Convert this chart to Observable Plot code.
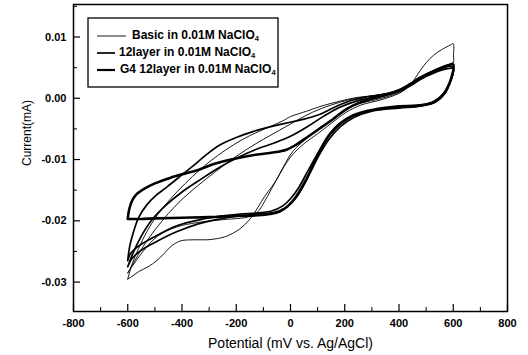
<!DOCTYPE html>
<html><head><meta charset="utf-8">
<script src="https://cdn.jsdelivr.net/npm/d3@7"></script>
<script src="https://cdn.jsdelivr.net/npm/@observablehq/plot@0.6"></script>
<style>body{margin:0;background:#fff} svg{display:block}</style>
</head><body><div id="chart"></div>
<script>
// Tick values
const xMajor = [-800, -600, -400, -200, 0, 200, 400, 600, 800];
const xMinor = [-700, -500, -300, -100, 100, 300, 500, 700];
const yMajor = [0.01, 0.00, -0.01, -0.02, -0.03];
const yMinor = [0.015, 0.005, -0.005, -0.015, -0.025];
const yDomain = [-0.0348, 0.0153];
const xDomain = [-800, 800];

const legendLabels = ["Basic in 0.01M NaClO", "12layer in 0.01M NaClO", "G4 12layer in 0.01M NaClO"];

// [potential mV, current mA] in sweep order
const basicCycle1 = [
  [-600,-0.0295],[-585,-0.0291],[-560,-0.0283],[-525,-0.0275],[-493,-0.0265],[-465,-0.0253],[-444,-0.0243],
  [-407,-0.0233],[-360,-0.0231],[-308,-0.0231],[-270,-0.0229],[-235,-0.0225],[-186,-0.0213],[-149,-0.0197],
  [-120,-0.0178],[-95,-0.0160],[-70,-0.0145],[-53,-0.0134],[-25,-0.0111],[8,-0.0087],[50,-0.0069],[95,-0.0053],
  [150,-0.0035],[205,-0.0018],[260,-0.0008],[320,-0.0002],[380,0.0006],[420,0.0014],[441,0.0022],[460,0.0033],
  [478,0.0045],[500,0.0058],[527,0.0070],[560,0.0080],[590,0.0087],[600,0.0089],
  [601,0.0070],[600,0.0058],[580,0.0051],[540,0.0045],[500,0.0038],[460,0.0028],[420,0.0017],[370,0.0009],
  [300,0.0004],[240,0.0001],[180,-0.0005],[120,-0.0012],[60,-0.0021],[0,-0.0030],[-29,-0.0037],[-90,-0.0049],
  [-150,-0.0061],[-210,-0.0076],[-270,-0.0094],[-330,-0.0115],[-390,-0.0140],[-440,-0.0163],[-490,-0.0190],
  [-530,-0.0218],[-560,-0.0245],[-585,-0.0272],[-600,-0.0295]
];
const basicCycle2 = [
  [-600,-0.0285],[-580,-0.0272],[-540,-0.0248],[-490,-0.0225],[-419,-0.0210],[-345,-0.0203],[-247,-0.0198],
  [-190,-0.0196],[-150,-0.0193],[-120,-0.0185],[-95,-0.0168],[-70,-0.0148],[-40,-0.0124],[0,-0.0096],
  [50,-0.0074],[100,-0.0058],[150,-0.0041],[205,-0.0023],[260,-0.0011],[330,-0.0003],[400,0.0008],[441,0.0020],
  [480,0.0033],[530,0.0045],[600,0.0058],
  [560,0.0050],[500,0.0040],[441,0.0023],[380,0.0011],[300,0.0004],[220,-0.0002],[150,-0.0011],[80,-0.0023],
  [20,-0.0037],[-40,-0.0052],[-100,-0.0067],[-160,-0.0083],[-220,-0.0101],[-280,-0.0121],[-340,-0.0142],
  [-400,-0.0165],[-450,-0.0188],[-500,-0.0215],[-545,-0.0243],[-580,-0.0270],[-600,-0.0285]
];
const layerCycle1 = [
  [-600,-0.0265],[-592,-0.0255],[-565,-0.0243],[-505,-0.0227],[-419,-0.0208],[-321,-0.0197],[-250,-0.0192],
  [-186,-0.0189],[-120,-0.0187],[-70,-0.0184],[-30,-0.0176],[0,-0.0164],[30,-0.0146],[60,-0.0122],[90,-0.0098],
  [125,-0.0072],[165,-0.0050],[210,-0.0034],[260,-0.0024],[320,-0.0018],[400,-0.0014],[480,-0.0011],[530,-0.0005],
  [565,0.0008],[588,0.0025],[600,0.0050],
  [580,0.0052],[530,0.0045],[480,0.0035],[441,0.0024],[400,0.0014],[340,0.0006],[280,0.0002],[220,-0.0004],
  [160,-0.0015],[109,-0.0026],[50,-0.0034],[-20,-0.0041],[-80,-0.0047],[-136,-0.0054],[-200,-0.0064],
  [-259,-0.0076],[-310,-0.0092],[-358,-0.0110],[-400,-0.0125],[-456,-0.0145],[-500,-0.0160],[-530,-0.0174],
  [-560,-0.0195],[-580,-0.0220],[-593,-0.0242],[-600,-0.0265]
];
const layerCycle2 = [
  [-600,-0.0275],[-585,-0.0262],[-550,-0.0248],[-490,-0.0233],[-420,-0.0218],[-340,-0.0205],[-260,-0.0197],
  [-190,-0.0192],[-120,-0.0189],[-60,-0.0186],[-20,-0.0179],[15,-0.0165],[45,-0.0145],[75,-0.0119],[105,-0.0093],
  [140,-0.0068],[185,-0.0046],[235,-0.0031],[300,-0.0021],[400,-0.0016],[480,-0.0013],[535,-0.0006],[570,0.0008],
  [590,0.0028],[600,0.0048],
  [575,0.0048],[527,0.0041],[480,0.0031],[441,0.0020],[380,0.0009],[300,0.0001],[240,-0.0005],[180,-0.0015],
  [120,-0.0030],[60,-0.0047],[0,-0.0062],[-60,-0.0073],[-130,-0.0084],[-200,-0.0098],[-270,-0.0115],
  [-340,-0.0135],[-400,-0.0153],[-460,-0.0175],[-510,-0.0198],[-550,-0.0225],[-580,-0.0252],[-600,-0.0275]
];
const g4Cycle1 = [
  [-600,-0.0197],[-550,-0.0197],[-500,-0.0196],[-400,-0.0195],[-300,-0.0194],[-200,-0.0192],[-120,-0.0191],
  [-75,-0.0189],[-40,-0.0185],[-10,-0.0176],[20,-0.0161],[45,-0.0143],[70,-0.0122],[95,-0.0098],[120,-0.0076],
  [146,-0.0058],[180,-0.0042],[230,-0.0028],[280,-0.0021],[343,-0.0016],[400,-0.0013],[466,-0.0012],[520,-0.0008],
  [555,0.0002],[576,0.0015],[592,0.0032],[600,0.0055],
  [575,0.0053],[527,0.0044],[480,0.0033],[441,0.0022],[400,0.0012],[343,0.0004],[290,-0.0002],[250,-0.0008],
  [205,-0.0018],[160,-0.0033],[109,-0.0049],[60,-0.0064],[20,-0.0076],[-15,-0.0084],[-70,-0.0089],[-140,-0.0093],
  [-210,-0.0099],[-280,-0.0107],[-340,-0.0117],[-390,-0.0123],[-444,-0.0130],[-500,-0.0139],[-540,-0.0148],
  [-568,-0.0157],[-585,-0.0168],[-595,-0.0182],[-600,-0.0197]
];

const toRows = (pts, cycle) => pts.map(([v, i]) => ({v, i, cycle}));
const basicRows = [...toRows(basicCycle1, "b1"), ...toRows(basicCycle2, "b2")];
const layerRows = [...toRows(layerCycle1, "l1"), ...toRows(layerCycle2, "l2")];
const g4Rows = toRows(g4Cycle1, "g1");

const W = 528, H = 355, mL = 73, mR = 21, mT = 4, mB = 44;
const innerW = W - mL - mR, innerH = H - mT - mB;
const tickFont = {fontSize: 11, fontWeight: "bold"};

const chart = Plot.plot({
  width: W, height: H, marginLeft: mL, marginRight: mR, marginTop: mT, marginBottom: mB,
  style: {fontFamily: "'Liberation Sans', Arial, sans-serif", background: "#fff", color: "#000"},
  x: {domain: xDomain},
  y: {domain: yDomain},
  marks: [
    Plot.line(basicRows, {x: "v", y: "i", z: "cycle", stroke: "#000", strokeWidth: 0.9, curve: "catmull-rom"}),
    Plot.line(layerRows, {x: "v", y: "i", z: "cycle", stroke: "#000", strokeWidth: 1.7, curve: "catmull-rom"}),
    Plot.line(g4Rows, {x: "v", y: "i", z: "cycle", stroke: "#000", strokeWidth: 2.6, curve: "catmull-rom"}),
    Plot.ruleX(xMajor, {x: d => d, insetTop: innerH - 7, stroke: "#000", strokeWidth: 1.2}),
    Plot.ruleX(xMinor, {x: d => d, insetTop: innerH - 4, stroke: "#000", strokeWidth: 1}),
    Plot.ruleY(yMajor, {y: d => d, insetRight: innerW - 7, stroke: "#000", strokeWidth: 1.2}),
    Plot.ruleY(yMinor, {y: d => d, insetRight: innerW - 4, stroke: "#000", strokeWidth: 1}),
    Plot.axisX(xMajor, {tickSize: 0, tickPadding: 8, tickFormat: d => String(d), label: null, ...tickFont}),
    Plot.axisY(yMajor, {tickSize: 0, tickPadding: 7, tickFormat: d => d.toFixed(2), label: null, ...tickFont}),
    Plot.text(["Potential (mV vs. Ag/AgCl)"], {frameAnchor: "bottom", dy: 36, fontSize: 14, fill: "#000"}),
    Plot.text(["Current(mA)"], {frameAnchor: "left", dx: -46, dy: 8, rotate: -90, fontSize: 12, fill: "#000"}),
    Plot.frame({stroke: "#000", strokeWidth: 1.5})
  ]
});
document.getElementById("chart").append(chart);

// Legend box inside the plot
const svg = d3.select(chart);
const lg = svg.append("g").attr("font-family", "'Liberation Sans', Arial, sans-serif")
  .attr("font-weight", "bold").attr("font-size", 12).attr("text-anchor", "start");
lg.append("rect").attr("x", 88).attr("y", 18).attr("width", 190).attr("height", 69)
  .attr("fill", "#fff").attr("stroke", "#000").attr("stroke-width", 1.3);
const legendRows = [
  {x1: 97, x2: 126, ly: 36, tx: 132, ty: 38.5, w: 0.9},
  {x1: 97, x2: 115, ly: 53, tx: 119, ty: 55.5, w: 1.7},
  {x1: 97, x2: 115, ly: 70, tx: 120, ty: 72.5, w: 2.2}
];
legendRows.forEach((r, k) => {
  lg.append("line").attr("x1", r.x1).attr("x2", r.x2).attr("y1", r.ly).attr("y2", r.ly)
    .attr("stroke", "#000").attr("stroke-width", r.w);
  const t = lg.append("text").attr("x", r.tx).attr("y", r.ty).attr("fill", "#000").attr("text-anchor", "start");
  t.append("tspan").text(legendLabels[k]);
  t.append("tspan").attr("font-size", 7.5).attr("dy", 2.5).text("4");
});
</script>
</body></html>
